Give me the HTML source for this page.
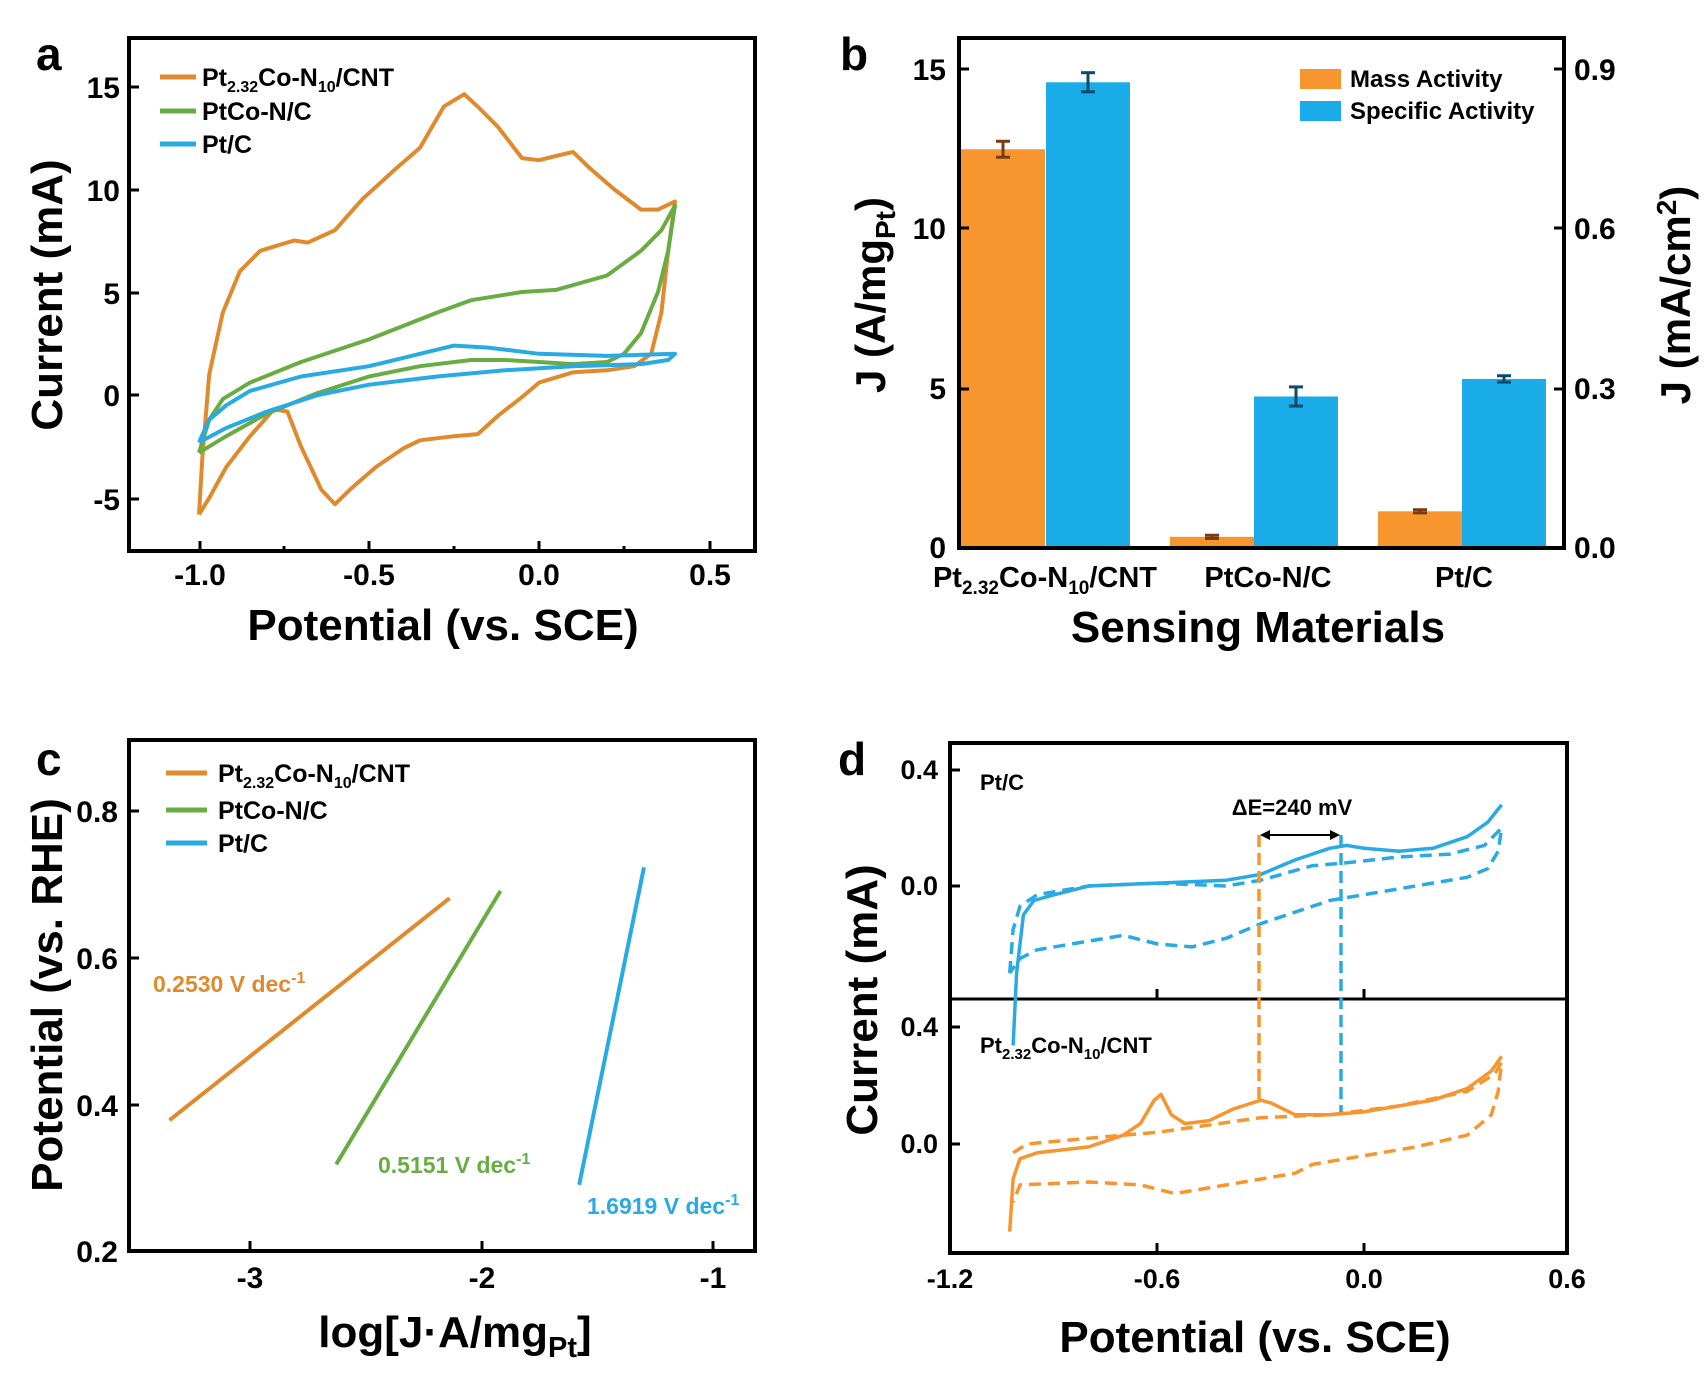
<!DOCTYPE html>
<html><head><meta charset="utf-8"><style>
html,body{margin:0;padding:0;background:#fff}
svg{display:block;font-family:"Liberation Sans",Arial,sans-serif;font-weight:bold}
</style></head><body>
<svg id="s" width="1704" height="1383" viewBox="0 0 1704 1383" xmlns="http://www.w3.org/2000/svg">
<rect width="1704" height="1383" fill="#fff"/>
<!-- Panel a -->
<text x="36" y="70" font-size="46">a</text>
<rect x="129" y="38" width="626" height="513" fill="none" stroke="#000" stroke-width="4"/>
<g font-size="30" text-anchor="end">
<text x="120" y="98">15</text><text x="120" y="201">10</text><text x="120" y="304">5</text><text x="120" y="406">0</text><text x="120" y="510">-5</text>
</g>
<g font-size="30" text-anchor="middle">
<text x="200" y="585">-1.0</text><text x="369" y="585">-0.5</text><text x="539" y="585">0.0</text><text x="710" y="585">0.5</text>
</g>
<text x="443" y="640" font-size="44" text-anchor="middle">Potential (vs. SCE)</text>
<text transform="translate(62,295) rotate(-90)" font-size="44" text-anchor="middle">Current (mA)</text>
<g stroke="#000" stroke-width="3">
<line x1="200" y1="551" x2="200" y2="541"/><line x1="369" y1="551" x2="369" y2="541"/><line x1="539" y1="551" x2="539" y2="541"/><line x1="710" y1="551" x2="710" y2="541"/>
<line x1="284" y1="551" x2="284" y2="546"/><line x1="454" y1="551" x2="454" y2="546"/><line x1="624" y1="551" x2="624" y2="546"/>
<line x1="129" y1="87" x2="139" y2="87"/><line x1="129" y1="190" x2="139" y2="190"/><line x1="129" y1="293" x2="139" y2="293"/><line x1="129" y1="395" x2="139" y2="395"/><line x1="129" y1="499" x2="139" y2="499"/>
</g>
<g stroke-width="5">
<line x1="160" y1="77" x2="196" y2="77" stroke="#e08a2e"/>
<line x1="160" y1="111" x2="196" y2="111" stroke="#6aac44"/>
<line x1="160" y1="144" x2="196" y2="144" stroke="#2aaae2"/>
</g>
<g font-size="25">
<text x="202" y="86">Pt<tspan font-size="16" dy="6">2.32</tspan><tspan dy="-6">Co-N</tspan><tspan font-size="16" dy="6">10</tspan><tspan dy="-6">/CNT</tspan></text>
<text x="202" y="120">PtCo-N/C</text>
<text x="202" y="153">Pt/C</text>
</g>
<g id="ga" fill="none" stroke-width="4" stroke-linejoin="round"></g>

<!-- Panel b -->
<text x="840" y="70" font-size="46">b</text>
<g id="gb"></g>
<rect x="959" y="38" width="605" height="510" fill="none" stroke="#000" stroke-width="4"/>
<g font-size="30" text-anchor="end">
<text x="946" y="558">0</text><text x="946" y="399">5</text><text x="946" y="239">10</text><text x="946" y="80">15</text>
</g>
<g font-size="30" text-anchor="start">
<text x="1574" y="558">0.0</text><text x="1574" y="399">0.3</text><text x="1574" y="239">0.6</text><text x="1574" y="80">0.9</text>
</g>
<g stroke="#000" stroke-width="3">
<line x1="959" y1="389" x2="969" y2="389"/><line x1="959" y1="228" x2="969" y2="228"/><line x1="959" y1="69" x2="969" y2="69"/>
<line x1="1564" y1="389" x2="1554" y2="389"/><line x1="1564" y1="228" x2="1554" y2="228"/><line x1="1564" y1="69" x2="1554" y2="69"/>
</g>
<g font-size="29" text-anchor="middle">
<text x="1045" y="587">Pt<tspan font-size="19" dy="7">2.32</tspan><tspan dy="-7">Co-N</tspan><tspan font-size="19" dy="7">10</tspan><tspan dy="-7">/CNT</tspan></text>
<text x="1268" y="587">PtCo-N/C</text>
<text x="1464" y="587">Pt/C</text>
</g>
<text x="1258" y="642" font-size="44" text-anchor="middle">Sensing Materials</text>
<text transform="translate(885,295) rotate(-90)" font-size="42" text-anchor="middle">J (A/mg<tspan font-size="28" dy="10">Pt</tspan><tspan dy="-10">)</tspan></text>
<text transform="translate(1690,295) rotate(-90)" font-size="42" text-anchor="middle">J (mA/cm<tspan font-size="28" dy="-14">2</tspan><tspan dy="14">)</tspan></text>
<rect x="1300" y="69" width="41" height="20" fill="#f7952f"/>
<rect x="1300" y="101" width="41" height="20" fill="#1aace8"/>
<g font-size="24"><text x="1350" y="87">Mass Activity</text><text x="1350" y="119">Specific Activity</text></g>

<!-- Panel c -->
<text x="36" y="775" font-size="46">c</text>
<rect x="129" y="740" width="626" height="511" fill="none" stroke="#000" stroke-width="4"/>
<g font-size="30" text-anchor="end">
<text x="118" y="822">0.8</text><text x="118" y="969">0.6</text><text x="118" y="1116">0.4</text><text x="118" y="1262">0.2</text>
</g>
<g font-size="30" text-anchor="middle">
<text x="250" y="1288">-3</text><text x="482" y="1288">-2</text><text x="713" y="1288">-1</text>
</g>
<g stroke="#000" stroke-width="3">
<line x1="250" y1="1251" x2="250" y2="1241"/><line x1="482" y1="1251" x2="482" y2="1241"/><line x1="713" y1="1251" x2="713" y2="1241"/>
<line x1="129" y1="811" x2="139" y2="811"/><line x1="129" y1="958" x2="139" y2="958"/><line x1="129" y1="1105" x2="139" y2="1105"/>
</g>
<text x="455" y="1347" font-size="44" text-anchor="middle">log[J·A/mg<tspan font-size="29" dy="10">Pt</tspan><tspan dy="-10">]</tspan></text>
<text transform="translate(62,995) rotate(-90)" font-size="44" text-anchor="middle">Potential (vs. RHE)</text>
<g stroke-width="5">
<line x1="166" y1="773" x2="207" y2="773" stroke="#e08a2e"/>
<line x1="166" y1="810" x2="207" y2="810" stroke="#6aac44"/>
<line x1="166" y1="843" x2="207" y2="843" stroke="#2aaae2"/>
</g>
<g font-size="25">
<text x="218" y="782">Pt<tspan font-size="16" dy="6">2.32</tspan><tspan dy="-6">Co-N</tspan><tspan font-size="16" dy="6">10</tspan><tspan dy="-6">/CNT</tspan></text>
<text x="218" y="819">PtCo-N/C</text>
<text x="218" y="852">Pt/C</text>
</g>
<g id="gc" stroke-width="4"></g>
<g font-size="23">
<text x="153" y="992" fill="#e08a2e">0.2530 V dec<tspan font-size="16" dy="-9">-1</tspan></text>
<text x="378" y="1173" fill="#6aac44">0.5151 V dec<tspan font-size="16" dy="-9">-1</tspan></text>
<text x="587" y="1214" fill="#2aaae2">1.6919 V dec<tspan font-size="16" dy="-9">-1</tspan></text>
</g>

<!-- Panel d -->
<text x="838" y="775" font-size="46">d</text>
<rect x="950" y="743" width="617" height="510" fill="none" stroke="#000" stroke-width="4"/>
<line x1="950" y1="999" x2="1567" y2="999" stroke="#000" stroke-width="3"/>
<g font-size="27" text-anchor="end">
<text x="938" y="779">0.4</text><text x="938" y="895">0.0</text><text x="938" y="1036">0.4</text><text x="938" y="1153">0.0</text>
</g>
<g font-size="27" text-anchor="middle">
<text x="950" y="1288">-1.2</text><text x="1157" y="1288">-0.6</text><text x="1364" y="1288">0.0</text><text x="1567" y="1288">0.6</text>
</g>
<g stroke="#000" stroke-width="3">
<line x1="1157" y1="1253" x2="1157" y2="1243"/><line x1="1364" y1="1253" x2="1364" y2="1243"/>
<line x1="1157" y1="999" x2="1157" y2="989"/><line x1="1364" y1="999" x2="1364" y2="989"/>
<line x1="950" y1="770" x2="960" y2="770"/><line x1="950" y1="886" x2="960" y2="886"/><line x1="950" y1="1027" x2="960" y2="1027"/><line x1="950" y1="1144" x2="960" y2="1144"/>
</g>
<text x="1255" y="1352" font-size="44" text-anchor="middle">Potential (vs. SCE)</text>
<text transform="translate(877,1000) rotate(-90)" font-size="44" text-anchor="middle">Current (mA)</text>
<g font-size="22">
<text x="980" y="790">Pt/C</text>
<text x="980" y="1053">Pt<tspan font-size="15" dy="6">2.32</tspan><tspan dy="-6">Co-N</tspan><tspan font-size="15" dy="6">10</tspan><tspan dy="-6">/CNT</tspan></text>
<text x="1292" y="815" text-anchor="middle">ΔE=240 mV</text>
</g>
<g id="gd" fill="none" stroke-width="3.5" stroke-linejoin="round"></g>
<line x1="1259" y1="835" x2="1259" y2="1101" stroke="#f7952f" stroke-width="3.5" stroke-dasharray="12,6"/>
<line x1="1341" y1="835" x2="1341" y2="1112" stroke="#2aaae2" stroke-width="3.5" stroke-dasharray="12,6"/>
<line x1="1266" y1="835" x2="1334" y2="835" stroke="#000" stroke-width="2"/>
<path d="M1260 835 l10 -5 v10z M1340 835 l-10 -5 v10z" fill="#000"/>
</svg>
<script>
function P(pts,fx,fy){return pts.map((p,i)=>(i?'L':'M')+fx(p[0]).toFixed(1)+' '+fy(p[1]).toFixed(1)).join(' ');}
function add(g,d,c,extra){var e=document.createElementNS('http://www.w3.org/2000/svg','path');e.setAttribute('d',d);e.setAttribute('stroke',c);e.setAttribute('fill','none');if(extra)for(var k in extra)e.setAttribute(k,extra[k]);document.getElementById(g).appendChild(e);}
var ax=v=>539+v*340, ay=v=>395-v*20.6;
var o=[[-1,-5.8],[-0.99,-3],[-0.97,1],[-0.93,4],[-0.88,6],[-0.82,7],[-0.76,7.3],[-0.72,7.5],[-0.68,7.4],[-0.6,8],[-0.52,9.5],[-0.42,11],[-0.35,12],[-0.28,14],[-0.22,14.6],[-0.18,14],[-0.12,13],[-0.05,11.5],[0,11.4],[0.05,11.6],[0.1,11.8],[0.15,11],[0.22,10],[0.3,9],[0.35,9],[0.4,9.4],[0.38,7],[0.36,4],[0.33,2],[0.28,1.4],[0.2,1.2],[0.1,1.1],[0,0.6],[-0.05,-0.1],[-0.12,-1],[-0.18,-1.9],[-0.25,-2],[-0.35,-2.2],[-0.4,-2.6],[-0.48,-3.5],[-0.55,-4.5],[-0.6,-5.3],[-0.64,-4.6],[-0.7,-2.5],[-0.74,-0.8],[-0.78,-0.7],[-0.85,-2],[-0.92,-3.5],[-0.97,-5],[-1,-5.8]];
var g=[[-1,-2.8],[-0.97,-1.2],[-0.93,-0.2],[-0.85,0.6],[-0.7,1.6],[-0.5,2.7],[-0.3,4],[-0.2,4.6],[-0.05,5],[0.05,5.1],[0.2,5.8],[0.3,7],[0.36,8],[0.4,9.2],[0.38,7],[0.35,5],[0.3,3],[0.25,2],[0.2,1.6],[0.1,1.5],[0,1.6],[-0.1,1.7],[-0.2,1.7],[-0.35,1.4],[-0.5,0.9],[-0.65,0.1],[-0.8,-0.9],[-0.92,-2],[-1,-2.8]];
var b=[[-1,-2.3],[-0.97,-1.2],[-0.92,-0.5],[-0.85,0.2],[-0.7,0.9],[-0.5,1.4],[-0.35,2],[-0.25,2.4],[-0.15,2.3],[0,2],[0.2,1.9],[0.4,2.0],[0.38,1.7],[0.3,1.5],[0.1,1.4],[-0.1,1.2],[-0.3,0.9],[-0.5,0.5],[-0.65,0],[-0.8,-0.8],[-0.92,-1.6],[-1,-2.3]];
add('ga',P(o,ax,ay),'#e08a2e');add('ga',P(g,ax,ay),'#6aac44');add('ga',P(b,ax,ay),'#2aaae2');
var by=v=>548-v*31.9;var gb=document.getElementById('gb');var html='';
[[961,12.5,'#f7952f',0.25],[1046,14.6,'#1aace8',0.3],[1170,0.35,'#f7952f',0.05],[1254,4.75,'#1aace8',0.3],[1378,1.15,'#f7952f',0.05],[1462,5.3,'#1aace8',0.1]].forEach(function(r){
var x=r[0],w=84,t=by(r[1]);var c=r[2]=='#f7952f'?'#7a3a10':'#0d4a6a';
html+='<rect x="'+x+'" y="'+t+'" width="'+w+'" height="'+(548-t)+'" fill="'+r[2]+'"/>';
var cx=x+w/2,e=r[3]*31.9;html+='<line x1="'+cx+'" y1="'+(t-e)+'" x2="'+cx+'" y2="'+(t+e)+'" stroke="'+c+'" stroke-width="3"/><line x1="'+(cx-7)+'" y1="'+(t-e)+'" x2="'+(cx+7)+'" y2="'+(t-e)+'" stroke="'+c+'" stroke-width="3"/><line x1="'+(cx-7)+'" y1="'+(t+e)+'" x2="'+(cx+7)+'" y2="'+(t+e)+'" stroke="'+c+'" stroke-width="3"/>';});
gb.innerHTML=html;
var cx_=v=>482+(v+2)*231.5, cy=v=>1251-(v-0.2)*735;
add('gc',P([[-3.35,0.378],[-2.14,0.68]],cx_,cy),'#e08a2e');
add('gc',P([[-2.63,0.318],[-1.92,0.69]],cx_,cy),'#6aac44');
add('gc',P([[-1.58,0.29],[-1.30,0.722]],cx_,cy),'#2aaae2');
var dx=v=>1364+v*344, dyt=v=>886-v*290, dyb=v=>1144-v*292;
var ts=[[-1.02,-0.55],[-1.01,-0.3],[-0.99,-0.1],[-0.96,-0.05],[-0.9,-0.03],[-0.8,0],[-0.6,0.01],[-0.4,0.02],[-0.3,0.04],[-0.2,0.09],[-0.1,0.13],[-0.05,0.14],[0,0.13],[0.1,0.12],[0.2,0.13],[0.3,0.17],[0.36,0.22],[0.4,0.28]];
var td=[[-1.03,-0.3],[-1.02,-0.15],[-1,-0.07],[-0.95,-0.03],[-0.8,0],[-0.6,0.01],[-0.4,0],[-0.3,0.02],[-0.15,0.07],[-0.05,0.08],[0.1,0.1],[0.25,0.11],[0.35,0.14],[0.4,0.2],[0.39,0.12],[0.36,0.06],[0.3,0.03],[0.15,0],[0,-0.03],[-0.1,-0.05],[-0.2,-0.09],[-0.3,-0.13],[-0.4,-0.18],[-0.5,-0.21],[-0.6,-0.2],[-0.7,-0.17],[-0.8,-0.19],[-0.95,-0.22],[-1,-0.25],[-1.03,-0.3]];
var bs=[[-1.03,-0.3],[-1.02,-0.12],[-1,-0.05],[-0.95,-0.03],[-0.8,-0.01],[-0.7,0.03],[-0.65,0.07],[-0.61,0.15],[-0.59,0.17],[-0.56,0.1],[-0.52,0.07],[-0.45,0.08],[-0.38,0.12],[-0.3,0.15],[-0.27,0.14],[-0.2,0.1],[-0.1,0.1],[0,0.11],[0.2,0.15],[0.3,0.19],[0.37,0.25],[0.4,0.3]];
var bd=[[-1.02,-0.03],[-0.98,0],[-0.8,0.02],[-0.6,0.04],[-0.3,0.09],[-0.1,0.1],[0.1,0.13],[0.3,0.18],[0.38,0.24],[0.4,0.28],[0.39,0.18],[0.37,0.1],[0.3,0.03],[0.15,-0.01],[0,-0.04],[-0.15,-0.07],[-0.2,-0.1],[-0.35,-0.13],[-0.5,-0.16],[-0.55,-0.17],[-0.65,-0.14],[-0.8,-0.13],[-1,-0.14],[-1.02,-0.2]];
add('gd',P(ts,dx,dyt),'#2aaae2');add('gd',P(td,dx,dyt),'#2aaae2',{'stroke-dasharray':'12,7'});
add('gd',P(bs,dx,dyb),'#f7952f');add('gd',P(bd,dx,dyb),'#f7952f',{'stroke-dasharray':'12,7'});
</script>
</body></html>
